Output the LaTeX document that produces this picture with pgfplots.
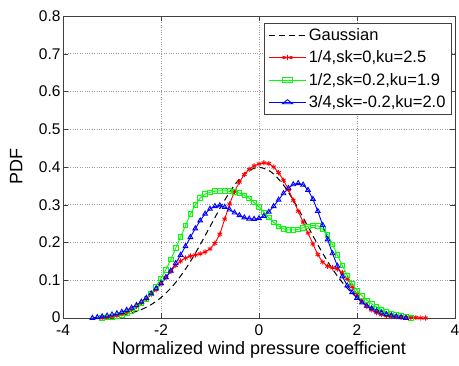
\documentclass[border=0pt]{standalone}
\usepackage{pgfplots}
\pgfplotsset{compat=1.18}
\usepackage{fontspec}
\setmainfont{Liberation Sans}
\begin{document}
\begin{tikzpicture}
\begin{axis}[name=ax,
  scale only axis, width=392pt, height=302pt,
  xmin=-4, xmax=4, ymin=0, ymax=0.8,
  xtick={-4,-2,0,2,4}, ytick={0,0.1,...,0.8},
  yticklabels={\raisebox{2.5pt}{0},0.1,0.2,0.3,0.4,0.5,0.6,0.7,0.8},
  xticklabels={-4,-2,0,2,4},
  tick align=inside, major tick length=5pt,
  grid=major, grid style={dotted, gray!80, line width=0.7pt},
  axis line style={line width=0.8pt, black!75},
  tick style={black!75},
  ticklabel style={font=\fontsize{15.5}{17}\selectfont},
  xticklabel style={yshift=-3.5pt},
  yticklabel style={xshift=1pt},
  xlabel={Normalized wind pressure coefficient},
  ylabel={PDF},
  label style={font=\fontsize{18}{20}\selectfont},
  xlabel style={at={(axis description cs:0.5,0)}, anchor=north, yshift=-20pt},
  ylabel style={at={(axis description cs:0,0.5)}, anchor=south, xshift=0pt, yshift=37pt},
  legend style={at={(0.992,0.977)}, anchor=north east, font=\fontsize{16.5}{18}\selectfont,
     draw=black!75, line width=0.8pt, cells={anchor=west}, inner xsep=4pt, inner ysep=3pt, row sep=5pt},
  legend image post style={xscale=2.2},
]
\addplot[black, dash pattern=on 6pt off 4pt, line width=1pt, smooth] coordinates {
(-3.0,0.0044)(-2.75,0.0091)(-2.5,0.0175)(-2.25,0.0317)(-2.0,0.0540)(-1.75,0.0863)
(-1.5,0.1295)(-1.25,0.1826)(-1.0,0.2420)(-0.75,0.3011)(-0.5,0.3521)(-0.25,0.3867)
(0,0.3989)(0.25,0.3867)(0.5,0.3521)(0.75,0.3011)(1.0,0.2420)(1.25,0.1826)(1.5,0.1295)
(1.75,0.0863)(2.0,0.0540)(2.25,0.0317)(2.5,0.0175)(2.75,0.0091)(3.0,0.0044)};
\addlegendentry{Gaussian}
\addplot[red, line width=0.9pt, mark=asterisk, mark size=2.6pt, mark options={solid}] coordinates {
(-3.2,0.000)(-3.1,0.002)(-3.0,0.004)(-2.9,0.007)(-2.8,0.011)(-2.7,0.016)(-2.6,0.023)
(-2.5,0.031)(-2.4,0.040)(-2.3,0.050)(-2.2,0.062)(-2.1,0.075)(-2.0,0.090)(-1.9,0.107)
(-1.8,0.124)(-1.7,0.139)(-1.6,0.151)(-1.5,0.159)(-1.4,0.164)(-1.3,0.167)(-1.2,0.170)
(-1.1,0.175)(-1.0,0.183)(-0.9,0.198)(-0.8,0.222)(-0.7,0.262)(-0.6,0.302)(-0.5,0.335)
(-0.4,0.360)(-0.3,0.380)(-0.2,0.394)(-0.1,0.403)(0.0,0.408)(0.1,0.411)(0.2,0.409)
(0.3,0.400)(0.4,0.385)(0.5,0.365)(0.6,0.340)(0.7,0.312)(0.8,0.283)(0.9,0.254)
(1.0,0.225)(1.1,0.196)(1.2,0.168)(1.3,0.148)(1.4,0.137)(1.5,0.133)(1.6,0.130)
(1.7,0.120)(1.8,0.104)(1.9,0.083)(2.0,0.062)(2.1,0.045)(2.2,0.031)(2.3,0.021)
(2.4,0.014)(2.5,0.009)(2.6,0.006)(2.7,0.004)(2.8,0.003)(2.9,0.002)(3.0,0.002)
(3.1,0.001)(3.2,0.001)(3.3,0.000)(3.4,0.000)};
\addlegendentry{1/4,sk=0,ku=2.5}
\addplot[green, line width=0.9pt, mark=square, mark size=2.3pt] coordinates {
(-3.2,0.000)(-3.1,0.001)(-3.0,0.003)(-2.9,0.005)(-2.8,0.008)(-2.7,0.013)(-2.6,0.019)
(-2.5,0.027)(-2.4,0.038)(-2.3,0.051)(-2.2,0.065)(-2.1,0.084)(-2.0,0.105)(-1.9,0.128)
(-1.8,0.155)(-1.7,0.185)(-1.6,0.215)(-1.5,0.245)(-1.4,0.275)(-1.3,0.300)(-1.2,0.318)
(-1.1,0.328)(-1.0,0.333)(-0.9,0.336)(-0.8,0.337)(-0.7,0.337)(-0.6,0.336)(-0.5,0.334)
(-0.4,0.331)(-0.3,0.325)(-0.2,0.317)(-0.1,0.306)(0.0,0.294)(0.1,0.280)(0.2,0.266)
(0.3,0.253)(0.4,0.243)(0.5,0.236)(0.6,0.233)(0.7,0.233)(0.8,0.235)(0.9,0.239)
(1.0,0.243)(1.1,0.245)(1.2,0.244)(1.3,0.236)(1.4,0.220)(1.5,0.195)(1.6,0.167)
(1.7,0.139)(1.8,0.113)(1.9,0.091)(2.0,0.073)(2.1,0.059)(2.2,0.047)(2.3,0.037)
(2.4,0.029)(2.5,0.022)(2.6,0.016)(2.7,0.011)(2.8,0.008)(2.9,0.005)(3.0,0.003)(3.1,0.000)};
\addlegendentry{1/2,sk=0.2,ku=1.9}
\addplot[blue, line width=0.9pt, mark=triangle, mark size=2.7pt] coordinates {
(-3.4,0.000)(-3.3,0.002)(-3.2,0.004)(-3.1,0.006)(-3.0,0.009)(-2.9,0.012)(-2.8,0.016)
(-2.7,0.021)(-2.6,0.027)(-2.5,0.034)(-2.4,0.043)(-2.3,0.053)(-2.2,0.065)(-2.1,0.078)
(-2.0,0.092)(-1.9,0.108)(-1.8,0.125)(-1.7,0.145)(-1.6,0.167)(-1.5,0.190)(-1.4,0.214)
(-1.3,0.237)(-1.2,0.258)(-1.1,0.276)(-1.0,0.289)(-0.9,0.296)(-0.8,0.298)(-0.7,0.294)
(-0.6,0.287)(-0.5,0.279)(-0.4,0.272)(-0.3,0.266)(-0.2,0.263)(-0.1,0.262)(0.0,0.264)
(0.1,0.270)(0.2,0.281)(0.3,0.296)(0.4,0.313)(0.5,0.330)(0.6,0.344)(0.7,0.354)
(0.8,0.357)(0.9,0.353)(1.0,0.339)(1.1,0.315)(1.2,0.283)(1.3,0.246)(1.4,0.208)
(1.5,0.171)(1.6,0.138)(1.7,0.110)(1.8,0.086)(1.9,0.068)(2.0,0.053)(2.1,0.041)
(2.2,0.032)(2.3,0.025)(2.4,0.019)(2.5,0.014)(2.6,0.010)(2.7,0.007)(2.8,0.004)
(2.9,0.002)(3.0,0.000)};
\addlegendentry{3/4,sk=-0.2,ku=2.0}
\end{axis}
\pgfresetboundingbox
\path ([shift={(-63pt,-48pt)}]ax.south west) rectangle ([shift={(4pt,16pt)}]ax.north east);
\end{tikzpicture}
\end{document}
